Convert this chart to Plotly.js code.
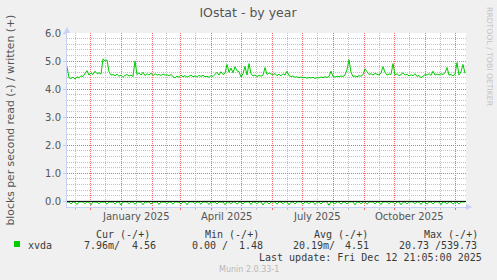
<!DOCTYPE html>
<html>
<head>
<meta charset="utf-8">
<script src="https://cdn.plot.ly/plotly-3.0.1.min.js"></script>
<style>html,body{margin:0;padding:0;background:#f0f0f0;}#chart{width:497px;height:280px;}</style>
</head>
<body>
<div id="chart"></div>
<script>
// ---- data (one sample every 2 days, starting 2024-11-08) ----
const startDate = '2024-11-08';
const stepDays = 2;
const written = [
 4.80,4.40,4.38,4.42,4.36,4.44,4.40,4.48,4.45,4.55,
 4.66,4.50,4.58,4.52,4.64,4.55,4.58,4.54,5.08,5.00,
 5.04,4.62,4.50,4.52,4.48,4.53,4.46,4.50,4.42,4.49,
 4.52,4.47,4.50,4.45,5.00,4.52,4.58,4.50,4.60,4.48,
 4.55,4.50,4.57,4.48,4.55,4.50,4.52,4.49,4.54,4.50,
 4.51,4.48,4.52,4.45,4.40,4.47,4.42,4.50,4.44,4.48,
 4.43,4.46,4.50,4.44,4.47,4.43,4.49,4.45,4.50,4.44,
 4.46,4.42,4.48,4.45,4.52,4.60,4.50,4.62,4.52,4.56,
 4.88,4.60,4.75,4.58,4.80,4.65,4.62,4.43,4.55,4.81,
 4.50,4.91,4.55,4.47,4.50,4.45,4.49,4.46,4.50,4.77,
 4.52,4.58,4.54,4.50,4.56,4.48,4.53,4.47,4.55,4.50,
 4.64,4.48,4.45,4.47,4.42,4.44,4.41,4.43,4.40,4.42,
 4.39,4.41,4.40,4.42,4.38,4.41,4.40,4.43,4.41,4.44,
 4.42,4.45,4.64,4.45,4.43,4.46,4.44,4.47,4.45,4.50,
 4.70,5.05,4.60,4.45,4.47,4.44,4.48,4.46,4.52,4.72,
 4.62,4.52,4.55,4.50,4.56,4.52,4.50,4.58,4.80,4.60,
 4.50,4.54,4.52,4.91,4.50,4.55,4.48,4.52,4.58,4.50,
 4.53,4.47,4.51,4.48,4.55,4.45,4.49,4.40,4.47,4.52,
 4.50,4.55,4.49,4.64,4.50,4.54,4.50,4.55,4.52,4.58,
 4.77,4.50,4.52,4.48,4.53,4.95,4.50,4.62,4.88,4.56
];
const readNeg = [
 -0.03,-0.02,-0.09,-0.02,-0.03,-0.11,-0.02,-0.03,-0.02,-0.08,
 -0.02,-0.03,-0.12,-0.02,-0.02,-0.03,-0.08,-0.02,-0.03,-0.02,
 -0.10,-0.02,-0.03,-0.02,-0.09,-0.03,-0.02,-0.13,-0.02,-0.03,
 -0.02,-0.08,-0.02,-0.03,-0.10,-0.02,-0.02,-0.03,-0.12,-0.02,
 -0.03,-0.02,-0.09,-0.02,-0.03,-0.02,-0.11,-0.02,-0.03,-0.02,
 -0.08,-0.02,-0.03,-0.10,-0.02,-0.02,-0.03,-0.09,-0.02,-0.03,
 -0.12,-0.02,-0.03,-0.02,-0.08,-0.02,-0.03,-0.10,-0.02,-0.02,
 -0.03,-0.11,-0.02,-0.03,-0.02,-0.09,-0.02,-0.03,-0.02,-0.12,
 -0.02,-0.03,-0.08,-0.02,-0.02,-0.10,-0.03,-0.02,-0.09,-0.02,
 -0.03,-0.02,-0.11,-0.02,-0.03,-0.08,-0.02,-0.02,-0.13,-0.03,
 -0.02,-0.09,-0.02,-0.03,-0.02,-0.10,-0.02,-0.03,-0.08,-0.02,
 -0.02,-0.12,-0.03,-0.02,-0.09,-0.02,-0.03,-0.02,-0.10,-0.02,
 -0.03,-0.08,-0.02,-0.02,-0.11,-0.03,-0.02,-0.09,-0.02,-0.03,
 -0.02,-0.14,-0.02,-0.03,-0.08,-0.02,-0.02,-0.10,-0.03,-0.02,
 -0.09,-0.02,-0.03,-0.02,-0.12,-0.02,-0.03,-0.08,-0.02,-0.02,
 -0.10,-0.03,-0.02,-0.02,-0.09,-0.02,-0.03,-0.11,-0.02,-0.03,
 -0.02,-0.08,-0.02,-0.03,-0.10,-0.02,-0.02,-0.12,-0.03,-0.02,
 -0.09,-0.02,-0.03,-0.02,-0.08,-0.02,-0.03,-0.11,-0.02,-0.02,
 -0.10,-0.03,-0.02,-0.09,-0.02,-0.03,-0.02,-0.12,-0.02,-0.03,
 -0.08,-0.02,-0.02,-0.10,-0.03,-0.02,-0.09,-0.02,-0.03,-0.02
];
const xRange = ['2024-11-08', '2025-12-12'];
const monthStarts = ['2024-12-01','2025-01-01','2025-02-01','2025-03-01','2025-04-01','2025-05-01','2025-06-01','2025-07-01','2025-08-01','2025-09-01','2025-10-01','2025-11-01','2025-12-01'];
const midMonths = ['2024-11-16','2024-12-16','2025-01-16','2025-02-15','2025-03-16','2025-04-16','2025-05-16','2025-06-16','2025-07-16','2025-08-16','2025-09-16','2025-10-16','2025-11-16'];
const labelDates = ['2025-01-16','2025-04-16','2025-07-16','2025-10-16'];
const labelTexts = ['January 2025','April 2025','July 2025','October 2025'];
const yTicks = [0,1,2,3,4,5,6];
const seriesName = 'xvda';
const legendHeaders = ['Cur (-/+)','Min (-/+)','Avg (-/+)','Max (-/+)'];
const legendRead = ['7.96m/','0.00 /','20.19m/','20.73 /'];
const legendWritten = ['4.56','1.48','4.51','539.73'];

// ---- build ----
const dates = written.map((_, i) => {
  const d = new Date(startDate + 'T00:00:00Z');
  d.setUTCDate(d.getUTCDate() + i * stepDays);
  return d.toISOString().slice(0, 10);
});

const L = 67, R = 466, T = 33, B = 207;
const px = x => (x - L) / (R - L);
const py = y => (B - y) / (B - T);

const green = '#00cc00';
const txt = '#555555';
const legTxt = '#3a3a3a';
const redGrid = '#f46a6a';
const grayGrid = '#c2c2c2';
const dash = '1px,1px';

const traces = [
  {x: dates, y: written, type: 'scatter', mode: 'lines', line: {color: green, width: 1}, hoverinfo: 'skip', showlegend: false},
  {x: dates, y: readNeg, type: 'scatter', mode: 'lines', line: {color: green, width: 1}, hoverinfo: 'skip', showlegend: false}
];

const ann = [];
labelDates.forEach((d, i) => ann.push({x: d, xref: 'x', y: py(216), yref: 'paper', text: labelTexts[i], showarrow: false, xanchor: 'center', yanchor: 'middle', font: {family: 'DejaVu Sans', size: 10, color: txt}}));
ann.push({x: px(9.5), y: py(120), xref: 'paper', yref: 'paper', text: 'blocks per second read (-) / written (+)', textangle: -90, showarrow: false, xanchor: 'center', yanchor: 'middle', font: {family: 'DejaVu Sans', size: 10.8, color: txt}});
ann.push({x: px(490), y: py(57), xref: 'paper', yref: 'paper', text: 'RRDTOOL / TOBI OETIKER', textangle: 90, showarrow: false, xanchor: 'center', yanchor: 'middle', font: {family: 'DejaVu Sans', size: 7.7, color: '#c4c4c4'}});
const headX = [95, 204, 313, 423];
const readX = [83, 191, 292, 398];
const wrX = [157, 264, 370, 478];
const mono = {family: 'DejaVu Sans Mono', size: 10, color: legTxt};
legendHeaders.forEach((h, i) => ann.push({x: px(headX[i]), y: py(234), xref: 'paper', yref: 'paper', text: h, showarrow: false, xanchor: 'left', yanchor: 'middle', borderpad: 0, font: mono}));
legendRead.forEach((h, i) => ann.push({x: px(readX[i]), y: py(245), xref: 'paper', yref: 'paper', text: h, showarrow: false, xanchor: 'left', yanchor: 'middle', borderpad: 0, font: mono}));
legendWritten.forEach((h, i) => ann.push({x: px(wrX[i]), y: py(245), xref: 'paper', yref: 'paper', text: h, showarrow: false, xanchor: 'right', yanchor: 'middle', borderpad: 0, font: mono}));
ann.push({x: px(27), y: py(245), xref: 'paper', yref: 'paper', text: seriesName, showarrow: false, xanchor: 'left', yanchor: 'middle', borderpad: 0, font: mono});
ann.push({x: px(483), y: py(257), xref: 'paper', yref: 'paper', text: 'Last update: Fri Dec 12 21:05:00 2025', showarrow: false, xanchor: 'right', yanchor: 'middle', borderpad: 0, font: mono});
ann.push({x: px(248.5), y: py(269), xref: 'paper', yref: 'paper', text: 'Munin 2.0.33-1', showarrow: false, xanchor: 'center', yanchor: 'middle', borderpad: 0, font: {family: 'DejaVu Sans', size: 8, color: '#b8b8b8'}});

const axisBlue = '#c8d0f4';
const shapes = [
  {type: 'line', xref: 'paper', yref: 'y', x0: 0, x1: 1, y0: 0, y1: 0, line: {color: '#000', width: 1}, layer: 'above'},
  {type: 'path', xref: 'paper', yref: 'paper', path: `M ${px(R)},${py(B-3)} L ${px(R+6)},${py(B)} L ${px(R)},${py(B+3)} Z`, fillcolor: axisBlue, line: {width: 0}},
  {type: 'path', xref: 'paper', yref: 'paper', path: `M ${px(L-3)},${py(T)} L ${px(L)},${py(T-6)} L ${px(L+3)},${py(T)} Z`, fillcolor: axisBlue, line: {width: 0}},
  {type: 'rect', xref: 'paper', yref: 'paper', x0: px(14), x1: px(20), y0: py(247), y1: py(241), fillcolor: green, line: {width: 0}}
];

const layout = {
  width: 497, height: 280,
  margin: {l: L, r: 497 - R, t: T, b: 280 - B, pad: 0},
  paper_bgcolor: '#f0f0f0',
  plot_bgcolor: '#ffffff',
  showlegend: false,
  title: {text: 'IOstat - by year', x: 248 / 497, xref: 'container', xanchor: 'center', y: 1 - 13 / 280, yref: 'container', yanchor: 'middle', font: {family: 'DejaVu Sans', size: 12.5, color: txt}},
  xaxis: {
    type: 'date', range: xRange, fixedrange: true,
    tickmode: 'array', tickvals: monthStarts, ticktext: monthStarts.map(() => ''),
    showgrid: true, gridcolor: redGrid, griddash: dash, gridwidth: 1,
    ticks: 'outside', ticklen: 2, tickcolor: redGrid,
    minor: {tickmode: 'array', tickvals: midMonths, showgrid: true, gridcolor: grayGrid, griddash: dash, ticks: 'outside', ticklen: 2, tickcolor: grayGrid},
    showline: true, linecolor: axisBlue, linewidth: 1, zeroline: false
  },
  yaxis: {
    range: [-0.2, 6.0], fixedrange: true,
    tickmode: 'array', tickvals: yTicks, ticktext: yTicks.map(v => v.toFixed(1)),
    showgrid: true, gridcolor: redGrid, griddash: dash, gridwidth: 1,
    minor: {dtick: 0.2, tick0: 0, showgrid: true, gridcolor: grayGrid, griddash: dash},
    ticks: 'outside', ticklen: 3, tickcolor: axisBlue,
    tickfont: {family: 'DejaVu Sans', size: 10, color: txt},
    showline: true, linecolor: axisBlue, linewidth: 1, zeroline: false
  },
  annotations: ann,
  shapes: shapes
};

Plotly.newPlot('chart', traces, layout, {staticPlot: true, displayModeBar: false});
</script>
</body>
</html>
